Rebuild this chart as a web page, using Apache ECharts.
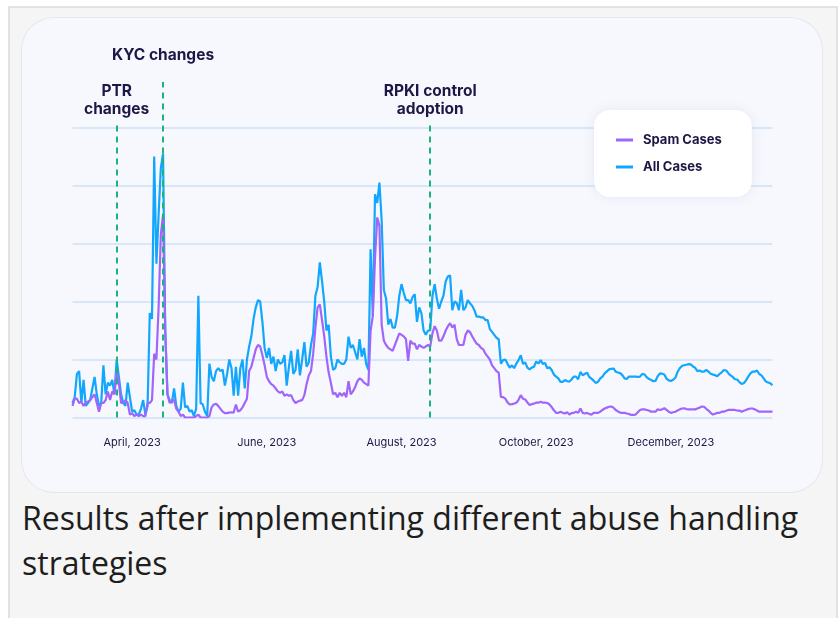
<!DOCTYPE html>
<html>
<head>
<meta charset="utf-8">
<script src="https://cdn.jsdelivr.net/npm/echarts@6/dist/echarts.min.js"></script>
<style>
  html, body { margin: 0; padding: 0; background: #ffffff; width: 840px; height: 618px; overflow: hidden; }
  #frame { position: absolute; left: 8px; top: 6px; width: 826px; height: 700px; background: #f5f5f5; border: 2px solid #e2e2e2; }
  #card { position: absolute; left: 22px; top: 18px; width: 800px; height: 474px; background: #f7f8fe; border-radius: 32px; box-shadow: 0 0 0 1px #e6e7ec; }
  #chart { position: absolute; left: 22px; top: 18px; width: 800px; height: 474px; }
  #caption { position: absolute; left: 22px; top: 495px; width: 800px; font-family: "Open Sans", sans-serif; font-size: 32px; line-height: 45px; color: #1e1e1e; }
</style>
</head>
<body>
<div id="frame"></div>
<div id="card"></div>
<div id="chart"></div>
<div id="caption">Results after implementing different abuse handling strategies</div>
<script>
// ---- data ----
const startDate = '2023-03-05'; // first daily point
const seriesNames = ['Spam Cases', 'All Cases'];

const allCases = [
  5, 7, 15, 16, 5, 13, 4, 5, 6, 10,
  14, 8, 4, 5, 18, 8, 12, 11, 13, 8,
  20, 14, 8, 5, 4, 12, 7, 2, 2.5, 1,
  1, 3, 6, 1, 4, 36, 34, 90, 53, 70,
  86, 91, 30, 8, 6, 5, 10, 4, 2, 3,
  12, 3.5, 4, 2, 2.5, 0.5, 3, 42, 5, 4.5,
  2, 0.5, 18.6, 14, 12.5, 16, 17, 16, 16.5, 11,
  15, 20, 17, 7.5, 17.5, 7.5, 17, 20, 10, 20,
  24.5, 28, 34, 38, 40.5, 40, 33, 24, 20.5, 24,
  18.5, 21, 16, 20, 18.5, 19, 21.5, 11, 17.5, 23,
  15, 16.4, 23.5, 14.5, 20, 26, 17.5, 19, 25, 29,
  42, 45, 53.5, 47, 40, 30, 32, 21, 16.4, 17,
  20, 19, 18.5, 18.5, 20, 27.9, 24, 25, 22.5, 20,
  27, 21, 24, 18.5, 16.4, 58, 35, 77, 74, 81,
  68, 44, 41, 32, 34, 31, 31, 35, 42, 46,
  43, 40.5, 40.5, 39.4, 41.5, 42.5, 33, 38, 36, 30,
  28.5, 30, 30, 42, 46, 41, 37.5, 40, 42, 47,
  48.6, 49, 37, 40, 39.5, 37, 44, 37, 38, 40.5,
  39.4, 38.5, 37, 34.8, 34.8, 34.5, 34.5, 33.6, 33.6, 30.5,
  29.5, 28.5, 27.5, 27, 18.6, 19.8, 20, 18.5, 17.2, 18,
  17, 18.6, 19.8, 21.5, 18.5, 19, 17.2, 16.6, 17.2, 17.5,
  19.3, 18.6, 19.8, 18.5, 18.8, 17, 17.3, 16.4, 14.8, 14.1,
  13.5, 12.3, 12.3, 12.9, 12.5, 12.4, 13.1, 14.1, 14.1, 13.2,
  15.7, 14.6, 15, 15.5, 14, 13.4, 12.7, 11.9, 12.3, 13.5,
  14.1, 15.2, 15.9, 16.6, 16.8, 16.9, 15.8, 15.5, 15.3, 14.6,
  13.5, 13.3, 14.1, 14.1, 14.1, 14.1, 14, 14.1,
  15, 14.9, 13.9, 13.3, 13, 12.5, 12.6, 14.2, 15.2, 15.1,
  14.8, 13.4, 12.8, 12.6, 13, 13.7, 15.7, 17, 17.8, 18,
  18.2, 18.4, 18.3, 17.6, 17.1, 16, 16.2, 15.8, 15.8, 16.4,
  15.8, 15.1, 14.8, 14.6, 14.2, 15, 15.6, 16.4, 16.2, 15.3,
  14.5, 14, 13.2, 13.1, 12.2, 11.6, 11.8, 12.8, 14.1, 15.2,
  15.8, 15.8, 16.2, 15, 14.5, 13.5, 12.4, 12.1, 11.8, 11.2
];

const spamCases = [
  4, 6.5, 6.5, 5, 5.5, 4, 5, 5.5, 6, 7,
  8, 5, 2, 5, 5, 6, 9, 6, 9, 8,
  16, 12, 5, 5, 6, 5, 1, 1.5, 0.5, 1,
  0.5, 1, 0.5, 0.5, 5, 5, 6, 22, 20, 38,
  63, 70, 30, 8, 5, 6, 6, 3, 2, 0.5,
  1, 0, 0, 0, 0, 0, 0.5, 1, 0, 0,
  0, 0, 0.5, 3.5, 4.5, 4.7, 4, 3, 2, 1.5,
  1.5, 1.7, 1.8, 1.7, 4.5, 2, 2.5, 3.5, 5, 6.5,
  16, 17.5, 20.5, 23.5, 25, 24.5, 21.5, 18, 14, 12.5,
  11.5, 11, 10, 9, 8.5, 9, 7.5, 8, 7.5, 7.7,
  6, 5, 5.5, 5.8, 6, 7.7, 11.5, 14.5, 16, 22,
  31, 38, 39, 33.6, 28, 21, 15.5, 12, 8, 8.5,
  7, 8.5, 7.5, 8.5, 7, 12.5, 8, 9, 10.5, 12.5,
  13.5, 13, 12, 11.5, 11, 30, 35, 55, 69, 66,
  32, 26.5, 25, 24, 23.5, 23, 25, 27, 29, 28.5,
  28, 27, 19.5, 26.5, 25.5, 25.5, 23.5, 25, 24.5, 24,
  24.5, 25, 24.5, 29, 31.5, 30, 26.5, 26.5, 28, 30,
  31.5, 32.5, 31, 32, 27, 25, 25, 25, 28.5, 30,
  29.5, 28, 26.7, 25.5, 25, 24, 23.5, 22, 21, 20,
  18, 17, 16, 15.5, 7.1, 7, 6.5, 5.2, 4.5, 4.6,
  4.8, 5.1, 6.1, 7.7, 6.5, 6.2, 5.2, 4.3, 4.6, 4.8,
  5.1, 5.1, 5.4, 5.1, 5.1, 5, 4.5, 3.6, 2.5, 1.6,
  1.6, 2, 1.6, 1.4, 1.8, 1, 1.5, 1.6, 2, 1.6,
  3.1, 1.6, 1.4, 1.6, 1.2, 1, 1.6, 1.6, 1.6, 2,
  2.6, 3.1, 3.4, 3.7, 3.8, 3.4, 2.6, 2.1, 1.7, 1.6,
  1.6, 1.4, 1.2, 0.9, 0.9, 1, 1.8, 2.6,
  2.8, 2.8, 2.6, 2.4, 2, 2, 2, 2.8, 2.6, 2.8,
  3.2, 2.6, 2, 1.6, 1.8, 2, 2.4, 2.8, 3.1, 3.2,
  2.9, 2.8, 2.8, 2.8, 2.8, 3.1, 3.4, 3.8, 3.7, 3,
  2.4, 1.6, 1, 1.3, 1.6, 1.6, 2, 2, 2.3, 2.6,
  2.6, 2.6, 2.6, 2.4, 2.4, 2, 2.3, 2.6, 2.9, 3.1,
  3.1, 2.8, 2.4, 2, 2, 2, 2, 2, 2, 2
];

const tickDates  = ['2023-04-01', '2023-06-01', '2023-08-01', '2023-10-01', '2023-12-01'];
const tickLabels = ['April, 2023', 'June, 2023', 'August, 2023', 'October, 2023', 'December, 2023'];

const eventDates  = ['2023-03-25', '2023-04-15', '2023-08-14'];
const eventLabels = ['PTR\nchanges', 'KYC changes', 'RPKI control\nadoption'];
const eventTops   = [101, 115.7, 101];

// ---- build categories (one per day) ----
const dates = [];
const t0 = Date.parse(startDate + 'T00:00:00Z');
for (let i = 0; i < allCases.length; i++) {
  dates.push(new Date(t0 + i * 86400000).toISOString().slice(0, 10));
}
const tickMap = {};
tickDates.forEach((d, k) => { tickMap[d] = tickLabels[k]; });

const FONT = 'Inter, "Noto Sans", sans-serif';
const NAVY = '#1c1745';
const GREEN = '#1cb47d';
const GRIDC = '#cde2f6';

const markData = eventDates.map((d, k) => [
  {
    coord: [d, 0],
    label: {
      formatter: eventLabels[k],
      distance: k === 1 ? 18 : 6
    }
  },
  { coord: [d, eventTops[k]] }
]);

const chart = echarts.init(document.getElementById('chart'), null, { renderer: 'canvas' });
chart.setOption({
  animation: false,
  backgroundColor: 'transparent',
  textStyle: { fontFamily: FONT },
  grid: { left: 50.5, top: 64, width: 700, height: 335.5, containLabel: false },
  legend: {
    data: seriesNames,
    orient: 'vertical',
    left: 572,
    top: 92,
    backgroundColor: '#ffffff',
    borderRadius: 16,
    padding: [22, 30, 22, 22],
    shadowBlur: 12,
    shadowColor: 'rgba(60, 80, 140, 0.10)',
    icon: 'rect',
    itemWidth: 17,
    itemHeight: 3,
    itemGap: 11,
    textStyle: {
      fontFamily: FONT,
      fontSize: 13,
      fontWeight: 700,
      color: NAVY,
      lineHeight: 16,
      padding: [0, 0, 0, 5]
    }
  },
  xAxis: {
    type: 'category',
    data: dates,
    boundaryGap: false,
    axisLine: { show: false },
    axisTick: { show: false },
    splitLine: { show: false },
    axisLabel: {
      interval: (idx, val) => tickMap[val] !== undefined,
      formatter: (val) => tickMap[val] || '',
      margin: 20,
      fontSize: 11,
      color: NAVY,
      fontFamily: FONT
    }
  },
  yAxis: {
    type: 'value',
    min: 0,
    max: 115.7,
    interval: 20,
    axisLine: { show: false },
    axisTick: { show: false },
    axisLabel: { show: false },
    splitLine: {
      showMaxLine: false,
      lineStyle: { color: [GRIDC, GRIDC, GRIDC, GRIDC, GRIDC, GRIDC, 'rgba(0,0,0,0)'], width: 1.5 }
    }
  },
  series: [
    {
      name: seriesNames[0],
      type: 'line',
      data: spamCases,
      showSymbol: false,
      symbol: 'none',
      z: 4,
      lineStyle: { color: '#a165fb', width: 2.2 },
      itemStyle: { color: '#a165fb' },
      markLine: {
        silent: true,
        symbol: 'none',
        animation: false,
        lineStyle: { color: GREEN, width: 2, type: [6, 5] },
        label: {
          show: true,
          position: 'end',
          color: NAVY,
          fontFamily: FONT,
          fontSize: 15.5,
          fontWeight: 700,
          lineHeight: 18,
          align: 'center'
        },
        data: markData
      }
    },
    {
      name: seriesNames[1],
      type: 'line',
      data: allCases,
      showSymbol: false,
      symbol: 'none',
      z: 3,
      lineStyle: { color: '#12a6fc', width: 2.2 },
      itemStyle: { color: '#12a6fc' }
    }
  ]
});
</script>
</body>
</html>
